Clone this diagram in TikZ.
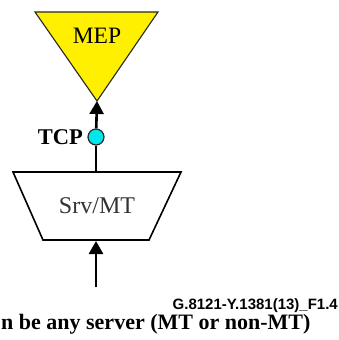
\documentclass[tikz,border=0pt]{standalone}
\usepackage{fontspec}
\setmainfont{Liberation Serif}
\newfontfamily\figfont{Liberation Sans}
\usetikzlibrary{arrows.meta}
\definecolor{mepyellow}{RGB}{255,240,0}
\definecolor{tcpcyan}{RGB}{0,232,236}
\tikzset{mepshape/.style={draw=black!85,fill=mepyellow,line width=1.1pt,line join=miter},
 srvshape/.style={draw=black,fill=white,line width=1.6pt},
 tcppoint/.style={circle,draw=black!85,fill=tcpcyan,line width=1.2pt,minimum size=16pt,inner sep=0pt},
 flow/.style={line width=2.6pt,-{Triangle[length=13pt,width=14pt]}},
 lbl/.style={font=\fontsize{22}{24}\selectfont,inner sep=0pt}}

\begin{document}
\begin{tikzpicture}[x=1pt,y=-1pt]
\useasboundingbox (0,0) rectangle (339,340);
% MEP
\coordinate (mepnw) at (35,12);
\coordinate (mepne) at (158,12);
\coordinate (mepapex) at (97,101);
\draw[mepshape] (mepnw) -- (mepne) -- (mepapex) -- cycle;
\node[lbl,font=\fontsize{23.5}{25}\selectfont] (mep) at (97,36) {MEP};
% TCP
\node[tcppoint] (tcp) at (96,137) {};
\node[lbl,font=\fontsize{22.5}{24}\selectfont\bfseries,anchor=east] (tcplbl) at (83,137) {TCP};
% Srv/MT adaptation
\coordinate (srvnw) at (13,172);
\coordinate (srvne) at (181,172);
\coordinate (srvse) at (149,240);
\coordinate (srvsw) at (43,240);
\draw[srvshape] (srvnw) -- (srvne) -- (srvse) -- (srvsw) -- cycle;
\node[lbl,font=\fontsize{24}{26}\selectfont,text=black!80] (srv) at (97,206) {Srv/MT};
\coordinate (srvtop) at (96,172);
\coordinate (srvbot) at (96,241);
\coordinate (srvin) at (96,287);
% connectors
\draw[line width=2.6pt] (tcp) -- (srvtop);
\draw[flow] (tcp) -- (mepapex);
\draw[flow] (srvin) -- (srvbot);
% texts
\node[inner sep=0pt,anchor=base east,font=\figfont\fontsize{15}{17}\selectfont\bfseries] (figid) at (338,309) {G.8121-Y.1381(13)\_F1.4};
\node[lbl,font=\fontsize{22}{24}\selectfont\bfseries,anchor=base west] (note) at (1,329) {n be any server (MT or non-MT)};
\end{tikzpicture}
\end{document}
